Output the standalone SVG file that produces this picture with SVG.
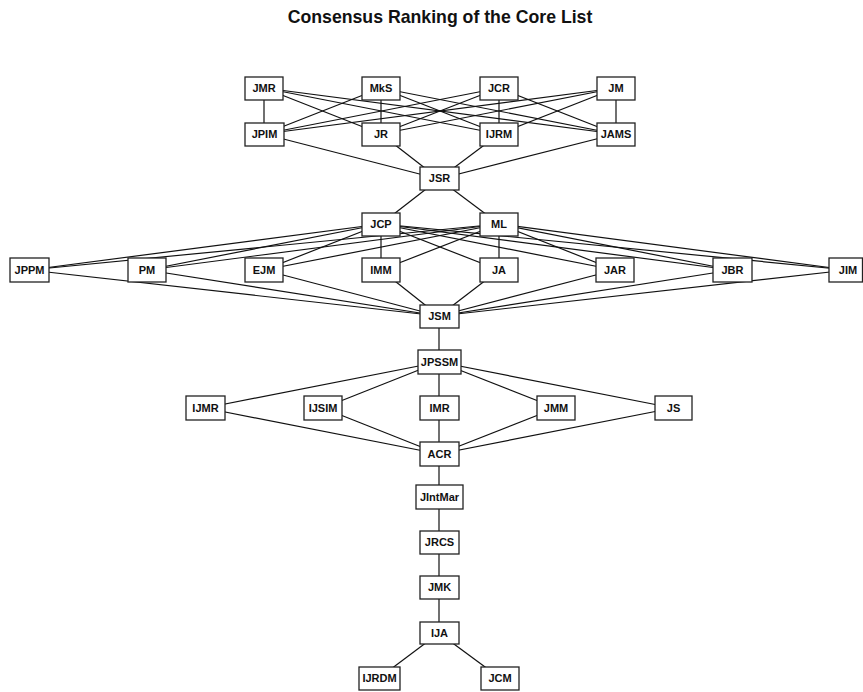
<svg xmlns="http://www.w3.org/2000/svg" width="863" height="692" viewBox="0 0 863 692">
<style>
.n rect{fill:#fff;stroke:#222;stroke-width:1.3}
.n text{font-family:"Liberation Sans",Arial,sans-serif;font-weight:bold;font-size:11px;fill:#111;text-anchor:middle}
#edges line{stroke:#111;stroke-width:1.2}
.title{font-family:"Liberation Sans",Arial,sans-serif;font-weight:bold;font-size:17.7px;fill:#111;text-anchor:middle}
</style>
<rect width="863" height="692" fill="#fff"/>
<text class="title" x="440" y="23">Consensus Ranking of the Core List</text>
<g id="edges">
<line x1="264" y1="88" x2="264" y2="134"/>
<line x1="264" y1="88" x2="381" y2="134"/>
<line x1="264" y1="88" x2="499" y2="134"/>
<line x1="264" y1="88" x2="616" y2="134"/>
<line x1="381" y1="88" x2="264" y2="134"/>
<line x1="381" y1="88" x2="381" y2="134"/>
<line x1="381" y1="88" x2="499" y2="134"/>
<line x1="381" y1="88" x2="616" y2="134"/>
<line x1="499" y1="88" x2="264" y2="134"/>
<line x1="499" y1="88" x2="381" y2="134"/>
<line x1="499" y1="88" x2="499" y2="134"/>
<line x1="499" y1="88" x2="616" y2="134"/>
<line x1="616" y1="88" x2="264" y2="134"/>
<line x1="616" y1="88" x2="381" y2="134"/>
<line x1="616" y1="88" x2="499" y2="134"/>
<line x1="616" y1="88" x2="616" y2="134"/>
<line x1="264" y1="134" x2="439" y2="179"/>
<line x1="381" y1="134" x2="439" y2="179"/>
<line x1="499" y1="134" x2="439" y2="179"/>
<line x1="616" y1="134" x2="439" y2="179"/>
<line x1="439" y1="179" x2="381" y2="224"/>
<line x1="439" y1="179" x2="499" y2="224"/>
<line x1="381" y1="224" x2="29" y2="270"/>
<line x1="381" y1="224" x2="147" y2="270"/>
<line x1="381" y1="224" x2="264" y2="270"/>
<line x1="381" y1="224" x2="381" y2="270"/>
<line x1="381" y1="224" x2="499" y2="270"/>
<line x1="381" y1="224" x2="615" y2="270"/>
<line x1="381" y1="224" x2="732" y2="270"/>
<line x1="381" y1="224" x2="848" y2="270"/>
<line x1="499" y1="224" x2="29" y2="270"/>
<line x1="499" y1="224" x2="147" y2="270"/>
<line x1="499" y1="224" x2="264" y2="270"/>
<line x1="499" y1="224" x2="381" y2="270"/>
<line x1="499" y1="224" x2="499" y2="270"/>
<line x1="499" y1="224" x2="615" y2="270"/>
<line x1="499" y1="224" x2="732" y2="270"/>
<line x1="499" y1="224" x2="848" y2="270"/>
<line x1="29" y1="270" x2="439" y2="316"/>
<line x1="147" y1="270" x2="439" y2="316"/>
<line x1="264" y1="270" x2="439" y2="316"/>
<line x1="381" y1="270" x2="439" y2="316"/>
<line x1="499" y1="270" x2="439" y2="316"/>
<line x1="615" y1="270" x2="439" y2="316"/>
<line x1="732" y1="270" x2="439" y2="316"/>
<line x1="848" y1="270" x2="439" y2="316"/>
<line x1="439" y1="316" x2="439" y2="362"/>
<line x1="439" y1="362" x2="205" y2="408"/>
<line x1="439" y1="362" x2="323" y2="408"/>
<line x1="439" y1="362" x2="439" y2="408"/>
<line x1="439" y1="362" x2="556" y2="408"/>
<line x1="439" y1="362" x2="673" y2="408"/>
<line x1="205" y1="408" x2="439" y2="454"/>
<line x1="323" y1="408" x2="439" y2="454"/>
<line x1="439" y1="408" x2="439" y2="454"/>
<line x1="556" y1="408" x2="439" y2="454"/>
<line x1="673" y1="408" x2="439" y2="454"/>
<line x1="439" y1="454" x2="439" y2="633"/>
<line x1="439" y1="633" x2="379" y2="678"/>
<line x1="439" y1="633" x2="500" y2="678"/>
</g>
<g id="JMR" class="n"><rect x="245" y="77" width="38" height="23"/><text x="264" y="92">JMR</text></g>
<g id="MkS" class="n"><rect x="362" y="77" width="38" height="23"/><text x="381" y="92">MkS</text></g>
<g id="JCR" class="n"><rect x="480" y="77" width="38" height="23"/><text x="499" y="92">JCR</text></g>
<g id="JM" class="n"><rect x="597" y="77" width="38" height="23"/><text x="616" y="92">JM</text></g>
<g id="JPIM" class="n"><rect x="245" y="123" width="39" height="23"/><text x="264.5" y="138">JPIM</text></g>
<g id="JR" class="n"><rect x="362" y="123" width="38" height="23"/><text x="381" y="138">JR</text></g>
<g id="IJRM" class="n"><rect x="480" y="123" width="38" height="23"/><text x="499" y="138">IJRM</text></g>
<g id="JAMS" class="n"><rect x="597" y="123" width="38" height="23"/><text x="616" y="138">JAMS</text></g>
<g id="JSR" class="n"><rect x="420" y="167" width="39" height="23"/><text x="439.5" y="182">JSR</text></g>
<g id="JCP" class="n"><rect x="362" y="213" width="38" height="23"/><text x="381" y="228">JCP</text></g>
<g id="ML" class="n"><rect x="480" y="213" width="38" height="23"/><text x="499" y="228">ML</text></g>
<g id="JPPM" class="n"><rect x="10" y="258" width="39" height="24"/><text x="29.5" y="274">JPPM</text></g>
<g id="PM" class="n"><rect x="128" y="258" width="38" height="24"/><text x="147" y="274">PM</text></g>
<g id="EJM" class="n"><rect x="245" y="258" width="38" height="24"/><text x="264" y="274">EJM</text></g>
<g id="IMM" class="n"><rect x="362" y="258" width="38" height="24"/><text x="381" y="274">IMM</text></g>
<g id="JA" class="n"><rect x="480" y="258" width="38" height="24"/><text x="499" y="274">JA</text></g>
<g id="JAR" class="n"><rect x="596" y="258" width="38" height="24"/><text x="615" y="274">JAR</text></g>
<g id="JBR" class="n"><rect x="713" y="258" width="39" height="24"/><text x="732.5" y="274">JBR</text></g>
<g id="JIM" class="n"><rect x="829" y="258" width="33.5" height="24"/><text x="848" y="274">JIM</text></g>
<g id="JSM" class="n"><rect x="420" y="305" width="39" height="23"/><text x="439.5" y="320">JSM</text></g>
<g id="JPSSM" class="n"><rect x="418" y="350" width="43" height="24"/><text x="439.5" y="366">JPSSM</text></g>
<g id="IJMR" class="n"><rect x="186" y="396" width="39" height="24"/><text x="205.5" y="412">IJMR</text></g>
<g id="IJSIM" class="n"><rect x="304" y="396" width="38" height="24"/><text x="323" y="412">IJSIM</text></g>
<g id="IMR" class="n"><rect x="420" y="396" width="39" height="24"/><text x="439.5" y="412">IMR</text></g>
<g id="JMM" class="n"><rect x="537" y="396" width="38" height="24"/><text x="556" y="412">JMM</text></g>
<g id="JS" class="n"><rect x="655" y="396" width="37" height="24"/><text x="673.5" y="412">JS</text></g>
<g id="ACR" class="n"><rect x="420" y="442" width="39" height="24"/><text x="439.5" y="458">ACR</text></g>
<g id="JIntMar" class="n"><rect x="416" y="485" width="47" height="24"/><text x="439.5" y="501">JIntMar</text></g>
<g id="JRCS" class="n"><rect x="420" y="531" width="39" height="23"/><text x="439.5" y="546">JRCS</text></g>
<g id="JMK" class="n"><rect x="420" y="576" width="39" height="23"/><text x="439.5" y="591">JMK</text></g>
<g id="IJA" class="n"><rect x="420" y="622" width="39" height="22"/><text x="439.5" y="637">IJA</text></g>
<g id="IJRDM" class="n"><rect x="359" y="667" width="41" height="23"/><text x="379.5" y="682">IJRDM</text></g>
<g id="JCM" class="n"><rect x="481" y="667" width="38" height="23"/><text x="500" y="682">JCM</text></g>
</svg>
